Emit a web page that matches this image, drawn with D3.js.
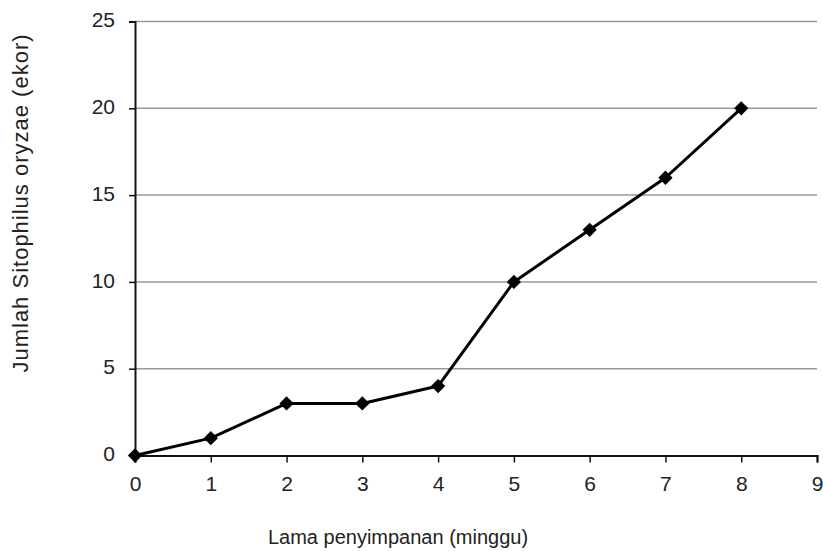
<!DOCTYPE html>
<html>
<head>
<meta charset="utf-8">
<script src="https://cdn.jsdelivr.net/npm/d3@7"></script>
<style>
  body { margin: 0; background: #fff; }
  text { font-family: "Liberation Sans", Arial, sans-serif; fill: #222; }
</style>
</head>
<body>
<div id="chart"></div>
<script>
// data
const weeks = [0, 1, 2, 3, 4, 5, 6, 7, 8];
const counts = [0, 1, 3, 3, 4, 10, 13, 16, 20];
const xTicks = [0, 1, 2, 3, 4, 5, 6, 7, 8, 9];
const yTicks = [0, 5, 10, 15, 20, 25];

const width = 823;
const height = 551;
const margin = { top: 21.5, right: 6, bottom: 95, left: 135 };
const tickFont = 21;

const svg = d3.select("#chart").append("svg")
  .attr("width", width)
  .attr("height", height);

const x = d3.scaleLinear().domain([0, 9]).range([margin.left, 817]);
const y = d3.scaleLinear().domain([0, 25]).range([455.5, margin.top]);

// gridlines
svg.append("g")
  .selectAll("line")
  .data(yTicks.filter(d => d > 0))
  .enter()
  .append("line")
  .attr("x1", x(0))
  .attr("x2", x(9))
  .attr("y1", d => y(d))
  .attr("y2", d => y(d))
  .attr("stroke", "#999")
  .attr("stroke-width", 1.5);

// axes
const yAxis = svg.append("g")
  .attr("transform", `translate(${x(0)},0)`)
  .call(d3.axisLeft(y).tickValues(yTicks).tickSize(6).tickPadding(14));

const xAxis = svg.append("g")
  .attr("transform", `translate(0,${y(0)})`)
  .call(d3.axisBottom(x).tickValues(xTicks).tickSize(7).tickPadding(14));

[yAxis, xAxis].forEach(a => {
  a.attr("font-size", tickFont).attr("font-family", null);
  a.select(".domain").attr("stroke", "#111").attr("stroke-width", 2);
  a.selectAll(".tick line").attr("stroke", "#111").attr("stroke-width", 1.5);
  a.selectAll(".tick text").attr("fill", "#222");
});
yAxis.selectAll(".tick text").attr("dy", "0.25em");

// line
const line = d3.line()
  .x((d, i) => x(weeks[i]))
  .y(d => y(d));

svg.append("path")
  .datum(counts)
  .attr("d", line)
  .attr("fill", "none")
  .attr("stroke", "#000")
  .attr("stroke-width", 3)
  .attr("stroke-linejoin", "round");

// diamond markers
const diamond = d3.symbol().type(d3.symbolDiamond2).size(130);
svg.append("g")
  .selectAll("path")
  .data(counts)
  .enter()
  .append("path")
  .attr("d", diamond)
  .attr("transform", (d, i) => `translate(${x(weeks[i])},${y(d)})`)
  .attr("fill", "#000");

// titles
svg.append("text")
  .attr("x", 398)
  .attr("y", 544)
  .attr("text-anchor", "middle")
  .attr("font-size", 20)
  .text("Lama penyimpanan (minggu)");

svg.append("text")
  .attr("transform", `translate(28,203) rotate(-90)`)
  .attr("text-anchor", "middle")
  .attr("font-size", 22)
  .attr("letter-spacing", 1)
  .text("Jumlah Sitophilus oryzae (ekor)");
</script>
</body>
</html>
